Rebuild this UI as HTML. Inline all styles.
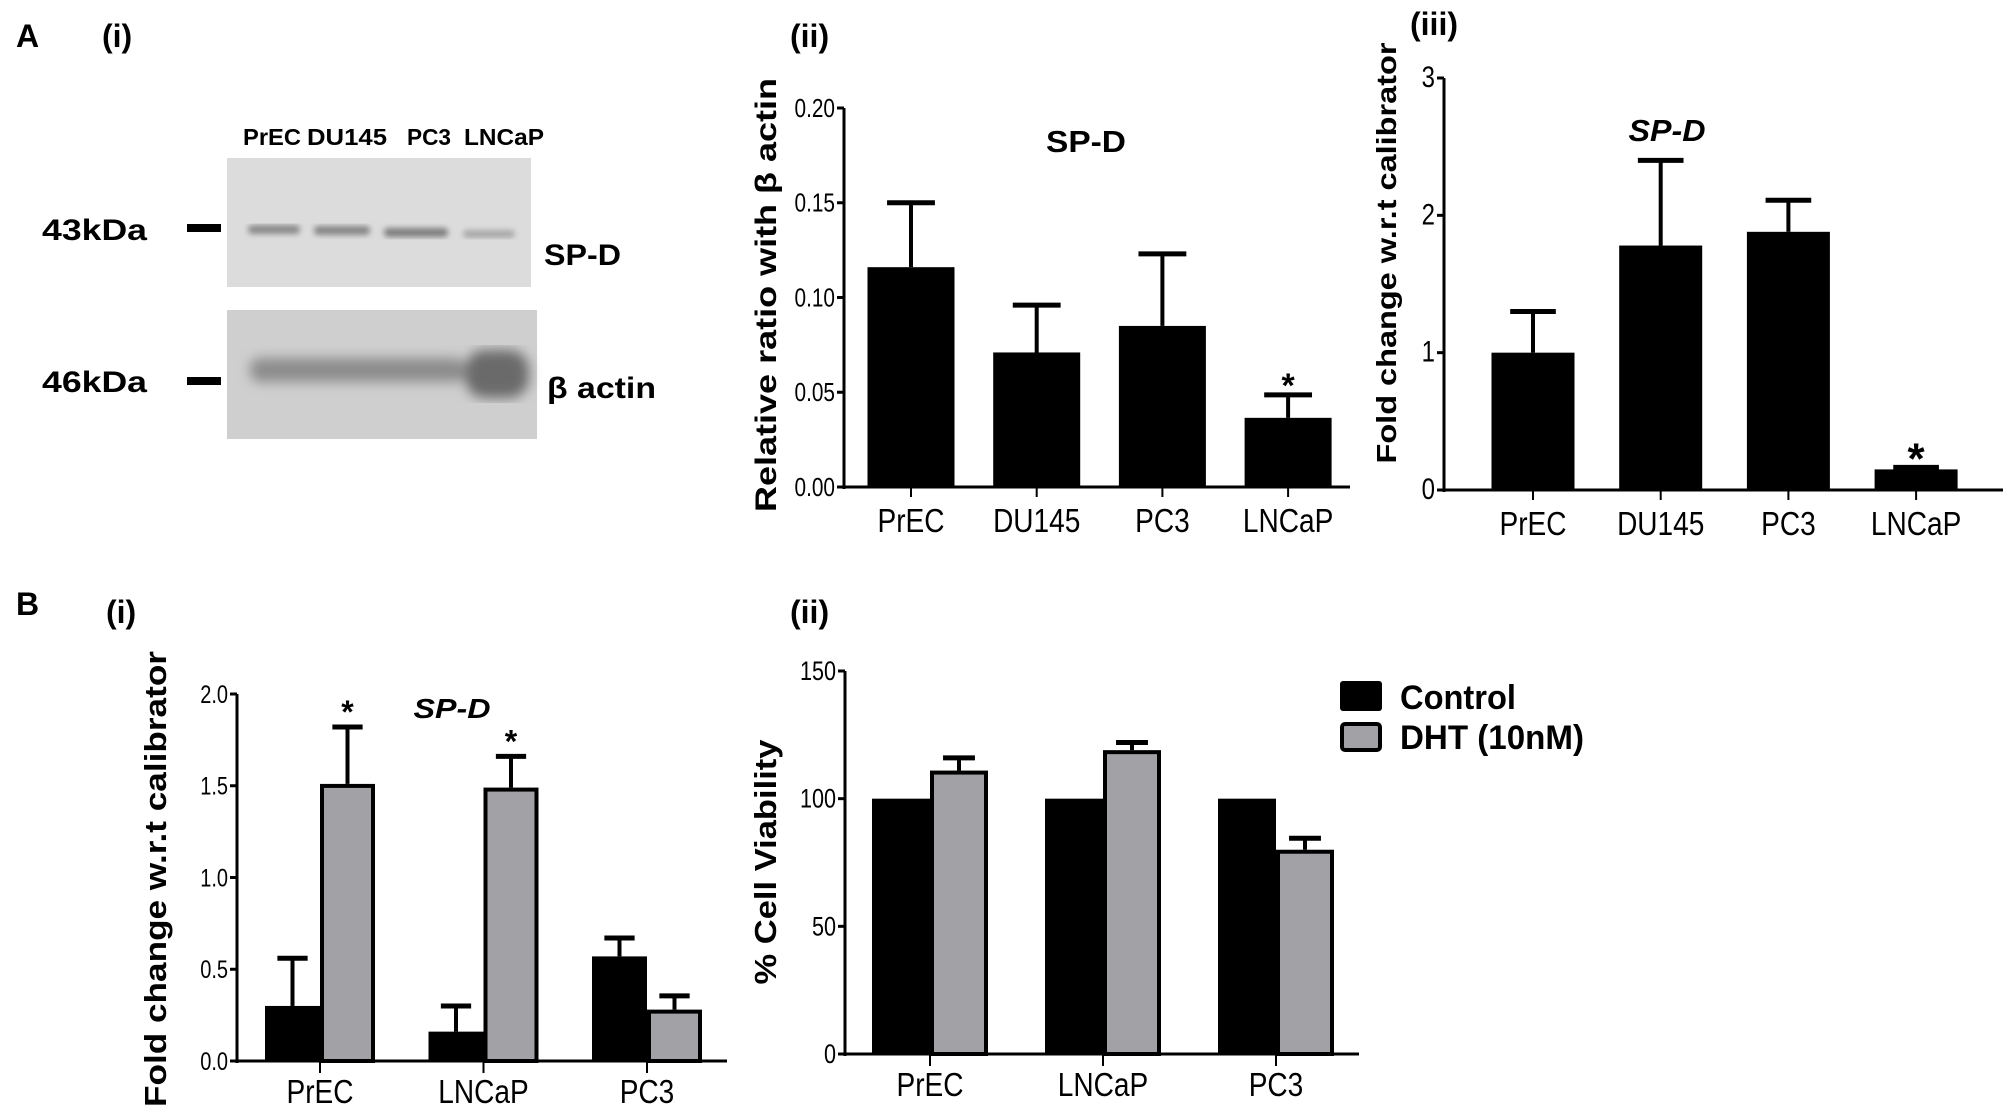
<!DOCTYPE html>
<html><head><meta charset="utf-8"><style>
html,body{margin:0;padding:0;background:#fff;}
svg{display:block;font-family:"Liberation Sans",Arial,sans-serif;}
</style></head><body>
<svg id="fig" width="2008" height="1113" viewBox="0 0 2008 1113" xmlns="http://www.w3.org/2000/svg">
<defs>
<filter id="blur3"><feGaussianBlur stdDeviation="3"/></filter>
<filter id="blur6"><feGaussianBlur stdDeviation="6"/></filter>
</defs>
<g font-weight="bold" font-size="32">
<text x="16" y="47">A</text>
<text x="102" y="47">(i)</text>
<text x="790" y="47">(ii)</text>
<text x="1410" y="35">(iii)</text>
<text x="16" y="615">B</text>
<text x="106" y="623">(i)</text>
<text x="790" y="623">(ii)</text>
</g>
<g>
<g font-size="23" font-weight="bold">
<text x="243" y="145" textLength="58" lengthAdjust="spacingAndGlyphs">PrEC</text>
<text x="307" y="145" textLength="80" lengthAdjust="spacingAndGlyphs">DU145</text>
<text x="407" y="145" textLength="44" lengthAdjust="spacingAndGlyphs">PC3</text>
<text x="464" y="145" textLength="80" lengthAdjust="spacingAndGlyphs">LNCaP</text>
</g>
<rect x="227" y="158" width="304" height="129" fill="#dcdcdc"/>
<g filter="url(#blur3)" fill="#8a8a8a">
<rect x="248" y="225" width="52" height="9" rx="4"/>
<rect x="314" y="226" width="56" height="9" rx="4" fill="#858585"/>
<rect x="384" y="228" width="64" height="9" rx="4" fill="#7e7e7e"/>
<rect x="463" y="230" width="52" height="8" rx="4" fill="#a8a8a8"/>
</g>
<rect x="227" y="310" width="310" height="129" fill="#cfcfcf"/>
<g filter="url(#blur6)" fill="#8c8c8c">
<rect x="250" y="358" width="215" height="24" rx="10"/>
<rect x="465" y="350" width="64" height="48" rx="20" fill="#6a6a6a"/>
</g>
<text x="42" y="240" font-size="30" font-weight="bold" textLength="105" lengthAdjust="spacingAndGlyphs">43kDa</text>
<rect x="187" y="224" width="34" height="8" fill="#000"/>
<text x="42" y="392" font-size="30" font-weight="bold" textLength="105" lengthAdjust="spacingAndGlyphs">46kDa</text>
<rect x="187" y="377" width="34" height="8" fill="#000"/>
<text x="544" y="265" font-size="30" font-weight="bold" textLength="77" lengthAdjust="spacingAndGlyphs">SP-D</text>
<text x="547" y="398" font-size="30" font-weight="bold" textLength="109" lengthAdjust="spacingAndGlyphs">β actin</text>
</g>
<g id="charts"></g>
</svg>
<script>
// ---- Chart A(ii) data ----
const aiiCategories = ["PrEC","DU145","PC3","LNCaP"];
const aiiValues = [0.116, 0.071, 0.085, 0.0365];
const aiiErrors = [0.150, 0.096, 0.123, 0.0486];
const aiiTicks = ["0.00","0.05","0.10","0.15","0.20"];
const aiiStars = [false,false,false,true];
// ---- Chart A(iii) data ----
const aiiiCategories = ["PrEC","DU145","PC3","LNCaP"];
const aiiiValues = [1.0, 1.78, 1.88, 0.15];
const aiiiErrors = [1.30, 2.40, 2.11, 0.165];
const aiiiTicks = ["0","1","2","3"];
const aiiiStars = [false,false,false,true];
// ---- Chart B(i) data ----
const biCategories = ["PrEC","LNCaP","PC3"];
const biControl = [0.30, 0.16, 0.57];
const biControlErr = [0.56, 0.30, 0.67];
const biDHT = [1.51, 1.49, 0.28];
const biDHTErr = [1.82, 1.66, 0.355];
const biTicks = ["0.0","0.5","1.0","1.5","2.0"];
const biStars = [true, true, false];
// ---- Chart B(ii) data ----
const biiCategories = ["PrEC","LNCaP","PC3"];
const biiControl = [100, 100, 100];
const biiDHT = [111, 119, 80];
const biiDHTErr = [116, 122, 84.5];
const biiTicks = ["0","50","100","150"];
const legendLabels = ["Control","DHT (10nM)"];

const NS="http://www.w3.org/2000/svg";
const root=document.getElementById('charts');
function mk(tag,attrs,parent){const e=document.createElementNS(NS,tag);for(const k in attrs)e.setAttribute(k,attrs[k]);(parent||root).appendChild(e);return e;}
function txt(s,attrs,parent){const e=mk('text',attrs,parent);e.textContent=s;return e;}

function axes(g,o){
  const ya=mk('line',{x1:o.x0,y1:o.y0+2,x2:o.x0,y2:o.yTop,stroke:'#000','stroke-width':3},g);
  
  
  const xa=mk('line',{x1:o.x0-6,y1:o.y0,x2:o.xEnd,y2:o.y0,stroke:'#000','stroke-width':3},g);
  
  
  o.ticks.forEach((t,i)=>{
    const v=parseFloat(t);const y=o.ys(v);
    mk('line',{x1:o.x0-7,y1:y,x2:o.x0,y2:y,stroke:'#000','stroke-width':3},g);
    const tl=txt(t,{x:o.x0-9,y:y+9,'font-size':o.tickFs||27,'text-anchor':'end',transform:`translate(${o.x0-9},0) scale(0.8,1) translate(${-(o.x0-9)},0)`},g);
    
    
  });
}

function yTitle(g,s,x,cy,len,fs){
  const t=txt(s,{x:0,y:0,'font-size':fs,'font-weight':'bold','text-anchor':'middle',textLength:len,lengthAdjust:'spacingAndGlyphs',transform:`translate(${x},${cy}) rotate(-90)`},g);
  
  
}

function errBar(g,cx,yTop,yEnd,w){
  mk('line',{x1:cx,y1:yTop,x2:cx,y2:yEnd,stroke:'#000','stroke-width':4},g);
  mk('line',{x1:cx-w/2,y1:yEnd,x2:cx+w/2,y2:yEnd,stroke:'#000','stroke-width':5},g);
}

function singleChart(name,cats,vals,errs,ticks,stars,o){
  const g=mk('g',{});
  
  
  const ys=v=>o.y0-(v/o.max)*(o.y0-o.yTop);
  o.ys=ys;o.ticks=ticks;
  cats.forEach((c,i)=>{
    const cx=o.c0+i*o.step;
    errBar(g,cx,ys(vals[i]),ys(errs[i]),o.bw*0.55);
    const b=mk('rect',{x:cx-o.bw/2,y:ys(vals[i]),width:o.bw,height:o.y0-ys(vals[i]),fill:'#000'},g);
    
    
    mk('line',{x1:cx,y1:o.y0,x2:cx,y2:o.y0+10,stroke:'#000','stroke-width':2},g);
    const l=txt(c,{x:cx,y:o.y0+45,'font-size':33,'text-anchor':'middle',transform:`translate(${cx},0) scale(0.85,1) translate(${-cx},0)`},g);
    
    
    if(stars[i]){
      const s=txt('*',{x:cx,y:ys(errs[i])-o.starOff,'font-size':o.starFs,'font-weight':'bold','text-anchor':'middle'},g);
      
      
    }
  });
  axes(g,o);
  return g;
}

// A(ii)
const gA2=singleChart('chart-a-ii',aiiCategories,aiiValues,aiiErrors,aiiTicks,aiiStars,
 {x0:844,y0:487,yTop:108,max:0.20,xEnd:1350,c0:911,step:125.7,bw:87,starOff:-2,starFs:34,tickFs:26});
yTitle(gA2,'Relative ratio with  β  actin',776,295,434,30);
const tA2=txt('SP-D',{x:1086,y:152,'font-size':31,'font-weight':'bold','text-anchor':'middle',textLength:80,lengthAdjust:'spacingAndGlyphs'},gA2);



// A(iii)
const gA3=singleChart('chart-a-iii',aiiiCategories,aiiiValues,aiiiErrors,aiiiTicks,aiiiStars,
 {x0:1444,y0:490,yTop:78,max:3,xEnd:2003,c0:1533,step:127.7,bw:83,starOff:-6,starFs:44,tickFs:30});
yTitle(gA3,'Fold change w.r.t calibrator',1396,253,421,28);
const tA3=txt('SP-D',{x:1667,y:141,'font-size':31,'font-weight':'bold','font-style':'italic','text-anchor':'middle',textLength:77,lengthAdjust:'spacingAndGlyphs'},gA3);



function groupedChart(name,cats,ctrl,ctrlErr,dht,dhtErr,ticks,stars,o){
  const g=mk('g',{});
  
  
  const ys=v=>o.y0-(v/o.max)*(o.y0-o.yTop);
  o.ys=ys;o.ticks=ticks;
  cats.forEach((c,i)=>{
    const cx=o.c0+i*o.step;
    if(ctrlErr) errBar(g,cx-o.bw/2,ys(ctrl[i]),ys(ctrlErr[i]),o.bw*0.55);
    errBar(g,cx+o.bw/2,ys(dht[i]),ys(dhtErr[i]),o.bw*0.55);
    const b1=mk('rect',{x:cx-o.bw,y:ys(ctrl[i]),width:o.bw,height:o.y0-ys(ctrl[i]),fill:'#000'},g);
    
    
    const b2=mk('rect',{x:cx+2,y:ys(dht[i])+2,width:o.bw-4,height:o.y0-ys(dht[i])-2,fill:'#a2a2a6',stroke:'#000','stroke-width':4},g);
    
    
    mk('line',{x1:cx,y1:o.y0,x2:cx,y2:o.y0+12,stroke:'#000','stroke-width':2},g);
    const l=txt(c,{x:cx,y:o.y0+42,'font-size':33,'text-anchor':'middle',transform:`translate(${cx},0) scale(0.85,1) translate(${-cx},0)`},g);
    
    
    if(stars && stars[i]){
      const s=txt('*',{x:cx+o.bw/2,y:ys(dhtErr[i])-4,'font-size':32,'font-weight':'bold','text-anchor':'middle'},g);
      
      
    }
  });
  axes(g,o);
  return g;
}

// B(i)
const gB1=groupedChart('chart-b-i',biCategories,biControl,biControlErr,biDHT,biDHTErr,biTicks,biStars,
 {x0:237,y0:1061,yTop:694,max:2.0,xEnd:727,c0:320,step:163.5,bw:55,tickFs:25});
yTitle(gB1,'Fold change w.r.t calibrator',166,879,456,31);
const tB1=txt('SP-D',{x:452,y:718,'font-size':28,'font-weight':'bold','font-style':'italic','text-anchor':'middle',textLength:77,lengthAdjust:'spacingAndGlyphs'},gB1);



// B(ii)
const gB2=groupedChart('chart-b-ii',biiCategories,biiControl,null,biiDHT,biiDHTErr,biiTicks,null,
 {x0:845,y0:1054,yTop:671,max:150,xEnd:1359,c0:930,step:173,bw:58,tickFs:27});
yTitle(gB2,'% Cell Viability',776,862,245,31);

// legend
const lg=mk('g',{});


const le1=mk('g',{},lg);


mk('rect',{x:1340,y:681,width:42,height:30,rx:3,fill:'#000'},le1);
txt(legendLabels[0],{x:1400,y:709,'font-size':34,'font-weight':'bold',textLength:116,lengthAdjust:'spacingAndGlyphs'},le1);
const le2=mk('g',{},lg);


mk('rect',{x:1342,y:724,width:38,height:26,rx:3,fill:'#a2a2a6',stroke:'#000','stroke-width':4},le2);
txt(legendLabels[1],{x:1400,y:749,'font-size':34,'font-weight':'bold',textLength:184,lengthAdjust:'spacingAndGlyphs'},le2);
</script>
</body></html>
